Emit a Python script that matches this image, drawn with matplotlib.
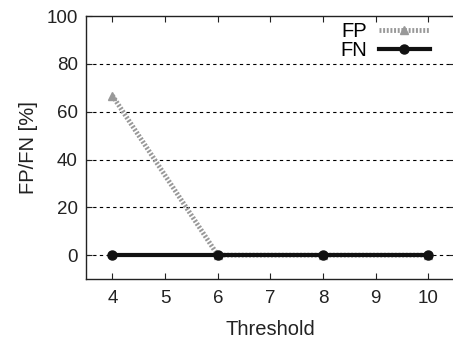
import matplotlib
matplotlib.use('Agg')
import matplotlib.pyplot as plt

plt.rcParams['font.family'] = ['Liberation Sans', 'DejaVu Sans']

threshold = [4, 6, 8, 10]
fp = [66.7, 0, 0, 0]
fn = [0, 0, 0, 0]

fig = plt.figure(figsize=(4.53, 3.42), dpi=100)
ax = fig.add_axes([0.19, 0.184, 0.814, 0.769])

ax.plot(threshold, fp, color='#999999', lw=3.5, ls=(0, (0.4, 0.35)),
        marker='^', ms=6, label='FP', zorder=3)
ax.plot(threshold, fn, color='#111111', lw=3.0,
        marker='o', ms=6.5, label='FN', zorder=4)

ax.set_xlim(3.5, 10.5)
ax.set_ylim(-10, 100)
ax.set_xticks(range(4, 11))
ax.set_yticks(range(0, 101, 20))
for y in range(0, 81, 20):
    ax.axhline(y, color='black', lw=0.8, ls=(0, (3, 3)), zorder=1)

ax.tick_params(direction='in', top=True, right=True, labelsize=13.5,
               length=4, width=0.8, colors='#222222', labelcolor='#222222')
ax.tick_params(axis='x', pad=8)
ax.tick_params(axis='y', pad=6)
for s in ax.spines.values():
    s.set_linewidth(1.0)
    s.set_color('#222222')

ax.set_xlabel('Threshold', fontsize=14.5, color='#222222', labelpad=9)
ax.set_ylabel('FP/FN [%]', fontsize=14.5, color='#222222', labelpad=6)

ax.legend(loc='upper right', bbox_to_anchor=(0.97, 1.03), frameon=False,
          markerfirst=False, fontsize=14.5, handlelength=2.5,
          handletextpad=0.6, labelspacing=0.0, borderaxespad=0.3)

fig.savefig('out.png', dpi=100)
